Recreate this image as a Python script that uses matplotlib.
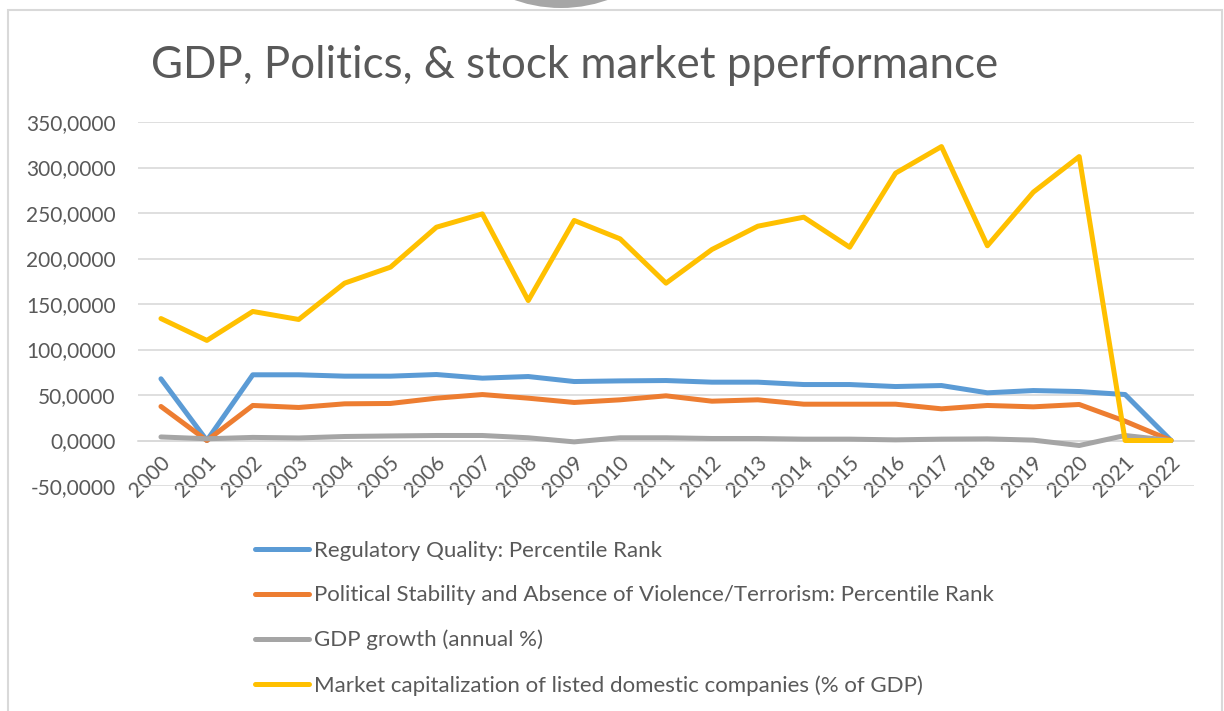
import matplotlib
matplotlib.use("Agg")
import matplotlib.pyplot as plt
from matplotlib.ticker import FuncFormatter, FixedLocator
from matplotlib.patches import Rectangle, Ellipse
import matplotlib.transforms as mtransforms
import numpy as np

plt.rcParams['font.family'] = ['Lato', 'DejaVu Sans']

years = [str(y) for y in range(2000, 2023)]
regulatory_quality = [67.8, 0.0, 72.2, 72.2, 70.7, 70.7, 72.5, 68.5, 70.3, 64.8, 65.5, 65.9,
                      64.1, 64.1, 61.5, 61.5, 59.3, 60.4, 52.4, 54.9, 53.8, 50.5, 0.0]
political_stability = [37.4, 0.0, 38.5, 36.3, 40.3, 40.7, 46.5, 50.5, 46.5, 41.8, 44.7, 49.1,
                       43.2, 44.7, 39.9, 39.9, 39.9, 34.8, 38.5, 37.0, 39.6, 21.2, 0.0]
gdp_growth = [3.9, 1.9, 3.4, 2.8, 4.4, 5.0, 5.5, 5.5, 3.0, -1.5, 3.0, 3.0,
              2.2, 2.2, 1.5, 1.5, 0.7, 1.5, 1.8, 0.4, -5.5, 5.5, 0.0]
market_cap = [134.0, 110.0, 141.8, 133.0, 172.9, 190.5, 234.4, 249.0, 153.8, 241.8, 221.6, 172.9,
              209.9, 235.5, 245.4, 212.4, 293.8, 323.0, 214.0, 272.9, 312.0, 0.0, 0.0]

series_labels = [
    "Regulatory Quality: Percentile Rank",
    "Political Stability and Absence of Violence/Terrorism: Percentile Rank",
    "GDP growth (annual %)",
    "Market capitalization of listed domestic companies (% of GDP)",
]
series_colors = ["#5B9BD5", "#ED7D31", "#A5A5A5", "#FFC000"]
y_ticks = [-50, 0, 50, 100, 150, 200, 250, 300, 350]

W, H = 1224, 711
fig = plt.figure(figsize=(W / 100, H / 100), dpi=100)
fig.patch.set_facecolor("white")

# chart border and top handle
fig.add_artist(Rectangle((8 / W, -0.05), (1222 - 8) / W, (H - 10) / H + 0.05,
                         transform=fig.transFigure, fill=False, edgecolor="#D9D9D9", lw=1.5))
fig.add_artist(Ellipse((561 / W, (H + 131) / H), 2 * 139 / W, 2 * 139 / H,
                       transform=fig.transFigure, facecolor="#A6A6A6", edgecolor="none"))

left, right, top, bottom = 138, 1194, 122, 486
ax = fig.add_axes([left / W, (H - bottom) / H, (right - left) / W, (bottom - top) / H])

x = np.arange(len(years))
data = [regulatory_quality, political_stability, gdp_growth, market_cap]
for vals, lab, col in zip(data, series_labels, series_colors):
    ax.plot(x, vals, color=col, lw=3.6, label=lab, solid_joinstyle="round",
            solid_capstyle="round", zorder=3)

ax.set_xlim(-0.5, len(years) - 0.5)
ax.set_ylim(-50, 350)
ax.yaxis.set_major_locator(FixedLocator(y_ticks))
ax.yaxis.set_major_formatter(FuncFormatter(lambda v, p: f"{v:.4f}".replace(".", ",")))
ax.grid(axis="y", color="#D9D9D9", lw=1.2, zorder=0)
ax.set_axisbelow(True)
for s in ["left", "right", "top"]:
    ax.spines[s].set_visible(False)
ax.spines["bottom"].set_position(("data", 0))
ax.spines["bottom"].set_color("#D9D9D9")
ax.spines["bottom"].set_linewidth(1.2)

ax.set_xticks(x)
ax.set_xticklabels(years, rotation=45, ha="right", va="center", rotation_mode="anchor")
ax.tick_params(axis="x", length=0, pad=14, labelsize=15, labelcolor="#595959")
ax.tick_params(axis="y", length=0, pad=16, labelsize=15, labelcolor="#595959")
offset = mtransforms.ScaledTranslation(6 / 100, 0, fig.dpi_scale_trans)
for lbl in ax.get_xticklabels():
    lbl.set_transform(lbl.get_transform() + offset)

fig.text(574.5 / W, (H - 78) / H, "GDP, Politics, & stock market pperformance",
         ha="center", va="baseline", fontsize=31.6, color="#595959")

leg = fig.legend(loc="upper left", bbox_to_anchor=(235 / W, (H - 521) / H),
                 frameon=False, fontsize=16, handlelength=2.45, handletextpad=0.2,
                 labelspacing=1.1, labelcolor="#595959")
for h in leg.get_lines():
    h.set_linewidth(3.6)

fig.savefig("out.png", dpi=100)
